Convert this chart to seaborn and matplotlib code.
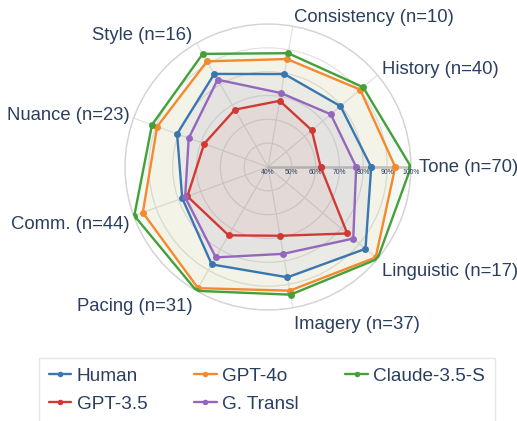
import numpy as np
import pandas as pd
import matplotlib
matplotlib.use("Agg")
import matplotlib.pyplot as plt
from matplotlib.lines import Line2D
import seaborn as sns

# ---------------- data ----------------
categories = ["Tone (n=70)", "History (n=40)", "Consistency (n=10)", "Style (n=16)",
              "Nuance (n=23)", "Comm. (n=44)", "Pacing (n=31)", "Imagery (n=37)",
              "Linguistic (n=17)"]
human = [83.3, 79.7, 79.6, 85.1, 80.6, 78.3, 87.2, 87.0, 93.4]
gpt4o = [93.4, 90.5, 86.0, 91.2, 89.5, 95.9, 98.7, 92.7, 99.0]
claude = [100.0, 92.1, 88.5, 94.8, 91.8, 99.7, 100.0, 94.4, 100.0]
gpt35 = [62.1, 64.0, 68.2, 67.8, 68.5, 76.0, 73.1, 69.3, 83.4]
gtransl = [77.0, 74.4, 71.5, 82.3, 75.4, 77.0, 83.8, 77.0, 86.7]
series_names = ["Human", "GPT-4o", "Claude-3.5-S", "GPT-3.5", "G. Transl"]
series_values = [human, gpt4o, claude, gpt35, gtransl]
radial_ticks = [40, 50, 60, 70, 80, 90, 100]
radial_tick_labels = ["40%", "50%", "60%", "70%", "80%", "90%", "100%"]

colors = {"Human": "#3a76b0", "GPT-4o": "#f5892e", "Claude-3.5-S": "#45a03a",
          "GPT-3.5": "#d13a34", "G. Transl": "#9467bd"}
TEXT = "#2a3f5f"

sns.set_theme(style="white")
plt.rcParams["font.family"] = ["Liberation Sans", "DejaVu Sans"]

n = len(categories)
angles = np.deg2rad(np.arange(n) * 360.0 / n)
angles_closed = np.append(angles, 2 * np.pi)

rows = []
for name, vals in zip(series_names, series_values):
    for t, v in zip(angles_closed, list(vals) + [vals[0]]):
        rows.append({"model": name, "theta": t, "value": v})
df = pd.DataFrame(rows)

W, H = 517, 421
fig = plt.figure(figsize=(W / 100, H / 100), dpi=100)
cx, cy, R = 268, 167, 143
ax = fig.add_axes([(cx - R) / W, (H - cy - R) / H, 2 * R / W, 2 * R / H], projection="polar")
ax.set_facecolor("white")

# fills
for name, vals in zip(series_names, series_values):
    ax.fill(angles_closed, list(vals) + [vals[0]], color=colors[name], alpha=0.055, lw=0, zorder=2)

sns.lineplot(data=df, x="theta", y="value", hue="model", hue_order=series_names,
             palette=colors, sort=False, estimator=None, marker="o", markersize=5,
             markeredgewidth=0, linewidth=1.7, ax=ax, legend=False, zorder=3)

ax.set_xlim(0, 2 * np.pi)
ax.set_ylim(40, 100)
ax.set_xticks(angles)
ax.set_xticklabels([])
ax.set_yticks(radial_ticks[1:])
ax.set_yticklabels([])
ax.set_xlabel("")
ax.set_ylabel("")
ax.grid(True, color="#e2e2e2", lw=0.9)
ax.spines["polar"].set_color("#d4d4d4")
ax.spines["polar"].set_linewidth(1.0)
ax.axvline(0, color="#c6c6c6", lw=1.8, zorder=1.5)

# radial tick labels
for v, lbl in zip(radial_ticks, radial_tick_labels):
    ax.annotate(lbl, xy=(0, v), xytext=(0, -6 * 0.72), textcoords="offset points",
                ha="center", va="center", fontsize=4.9, color=TEXT, zorder=5)

# angular labels
for ang, cat in zip(angles, categories):
    c, s = np.cos(ang), np.sin(ang)
    if c > 0.05:
        ha = "left"
    elif c < -0.05:
        ha = "right"
    else:
        ha = "center"
    dxp = 4 * np.sign(c) if abs(c) > 0.2 else 1.5 * np.sign(c)
    if abs(s) < 0.01:
        dxp = 8
    if s > 0.01:
        dyp = 9 * s
    elif s < -0.01:
        dyp = -17 * abs(s) ** 0.6
    else:
        dyp = 0
    ax.annotate(cat, xy=(ang, 100), xytext=(dxp * 0.72, dyp * 0.72), textcoords="offset points",
                ha=ha, va="center", fontsize=13.3, color=TEXT, annotation_clip=False)

# legend (column-major order to reproduce row layout)
order = ["Human", "GPT-3.5", "GPT-4o", "G. Transl", "Claude-3.5-S"]
handles = [Line2D([0], [0], color=colors[m], lw=1.7, marker="o", markersize=4,
                  markeredgewidth=0) for m in order]
leg = fig.legend(handles, order, loc="upper left", bbox_to_anchor=(39 / W, 1 - 358 / H),
                 ncol=3, frameon=True, fancybox=False, fontsize=13.7, labelcolor=TEXT,
                 handlelength=1.2, handletextpad=0.28, columnspacing=2.45,
                 labelspacing=0.55, borderpad=0.5, borderaxespad=0)
leg.get_frame().set_edgecolor("#e0e0e0")
leg.get_frame().set_linewidth(1.0)

fig.savefig("out.png", dpi=100, facecolor="white")
